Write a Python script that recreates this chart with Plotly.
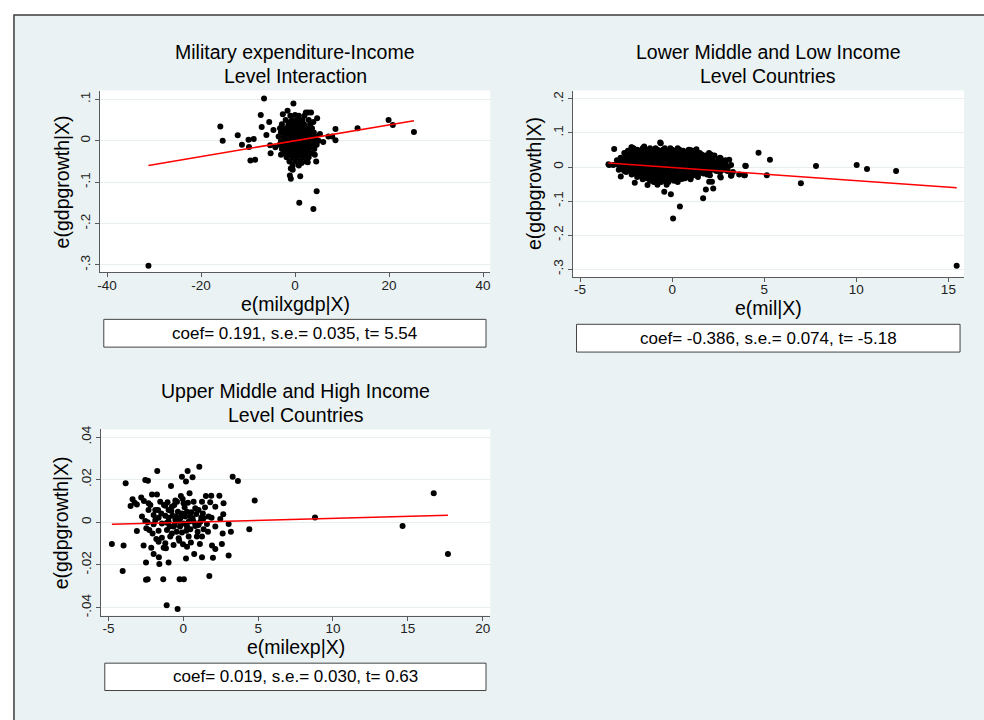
import plotly.graph_objects as go

# ---------------- data ----------------
# Panel 1: e(milxgdp|X) vs e(gdpgrowth|X)
p1_out_x = [-31.2, -15.9, -15.4, -12.2, -11.3, -9.9, -9.8, -8.8, -9.5, -8.5, -7.3, -6.6, -7.1, -6.1,
            -5.5, -5.3, -5.2, -4.6, -4.2, -3.0, -1.6, -0.35, -2.6, 0.0, 2.3, 2.8, 3.4, 3.9, 4.7, 4.2,
            4.5, 2.7, 1.4, -0.9, -0.5, -1.1, -0.9, 1.1, 4.6, 0.9, 3.9, 6.0, 7.1, 7.9, 8.6, 8.6, 13.3,
            19.9, 20.8, 25.3, 5.3]
p1_out_y = [-0.302, 0.034, 0.000, 0.013, -0.010, 0.002, -0.015, 0.004, -0.048, -0.046, 0.062, 0.102,
            0.033, 0.014, 0.045, -0.011, -0.030, 0.026, -0.016, -0.034, 0.072, 0.090, 0.064, 0.062,
            0.068, 0.068, 0.068, 0.045, 0.054, -0.034, -0.050, -0.052, -0.054, -0.067, -0.070, -0.084,
            -0.092, -0.086, -0.122, -0.150, -0.165, -0.003, 0.010, 0.010, 0.028, 0.001, 0.030, 0.050,
            0.038, 0.021, 0.016]
p1_core_rows = {
    0.06: [-1.0, 0.8, 2.0],
    0.05: [-2.0, -0.6, 0.5, 1.6, 2.9],
    0.045: [-1.0, 0.3, 1.4],
    0.04: [-2.8, -1.4, -0.3, 0.8, 1.9, 3.2],
    0.03: [-3.2, -2.0, -0.9, 0.2, 1.3, 2.4, 3.6],
    0.025: [-2.5, -1.2, 0.0, 1.1, 2.2, 3.2],
    0.02: [-3.0, -1.7, -0.6, 0.5, 1.6, 2.7, 4.0],
    0.015: [-2.0, -0.8, 0.3, 1.4, 2.5, 3.6],
    0.01: [-3.5, -2.3, -1.2, -0.1, 1.0, 2.1, 3.2, 4.4],
    0.005: [-2.6, -1.4, -0.2, 0.9, 2.0, 3.1, 4.3],
    0.0: [-3.0, -1.8, -0.7, 0.4, 1.5, 2.6, 3.8, 5.0],
    -0.005: [-2.5, -1.4, -0.3, 0.8, 1.9, 3.0, 4.0],
    -0.01: [-3.3, -2.1, -1.0, 0.1, 1.2, 2.3, 3.5, 4.6],
    -0.015: [-2.2, -1.1, 0.0, 1.1, 2.3, 3.4],
    -0.02: [-2.8, -1.6, -0.5, 0.6, 1.7, 2.9, 4.1],
    -0.025: [-2.0, -0.8, 0.3, 1.4, 2.5],
    -0.03: [-2.4, -1.2, -0.1, 1.0, 2.2, 3.4],
    -0.035: [-1.5, -0.3, 0.8, 2.0],
    -0.04: [-1.8, -0.6, 0.5, 1.7, 2.9],
    -0.05: [-1.2, 0.0, 1.2, 2.4],
    -0.06: [-0.5, 0.8],
}

# Panel 2: e(mil|X) vs e(gdpgrowth|X)
p2_out_x = [15.45, 12.16, 10.58, 10.02, 7.81, 6.99, 5.31, 5.14, 4.69, 4.00, 3.91, 3.64, 3.10, 3.22,
            3.01, 2.64, 2.61, 2.23, 1.83, 1.68, 2.01, 0.42, 0.05, -0.07, -0.43, -3.15, -3.42, -2.79,
            -2.03, -2.21, -0.65, -1.34, 1.32, 0.98, -3.46, -2.19, -1.52, -0.62, 0.53, 0.74, 2.68,
            3.19, 2.64, 3.95, 3.97, 2.05, 2.16]
p2_out_y = [-0.290, -0.012, -0.006, 0.006, 0.003, -0.048, 0.021, -0.024, 0.042, 0.003, -0.024, -0.022,
            0.021, -0.025, -0.004, 0.025, -0.028, -0.063, -0.066, -0.092, -0.043, -0.116, -0.151,
            -0.080, -0.073, 0.053, 0.006, -0.028, -0.046, 0.058, 0.072, -0.053, 0.052, 0.050, 0.008,
            0.057, 0.060, 0.070, -0.035, 0.035, 0.011, -0.026, -0.031, -0.024, 0.004, -0.024, -0.043]
p2_core_rows = {
    0.055: [-2.1, -1.6, -1.2, -0.9, -0.4, -0.1, 0.3],
    0.051: [-1.9, -1.4, -0.8, -0.5, 0.0, 0.4, 0.9],
    0.048: [-2.4, -1.8, -1.4, -1.0, -0.7, -0.2, 0.2, 0.6, 1.1],
    0.044: [-2.2, -1.8, -1.4, -1.0, -0.6, -0.3, 0.1, 0.5, 1.0, 1.3],
    0.041: [-2.6, -2.0, -1.6, -1.2, -0.8, -0.5, -0.1, 0.3, 0.8, 1.5, 2.0],
    0.037: [-2.5, -2.1, -1.7, -1.3, -0.9, -0.5, -0.1, 0.3, 0.7, 1.1, 1.6, 2.1],
    0.034: [-2.3, -1.9, -1.5, -1.1, -0.7, -0.3, 0.1, 0.5, 0.9, 1.3, 1.8, 2.3],
    0.030: [-2.5, -2.0, -1.5, -1.1, -0.7, -0.3, 0.0, 0.4, 0.8, 1.2, 1.7, 2.2],
    0.027: [-2.8, -2.2, -1.7, -1.3, -0.9, -0.5, -0.1, 0.2, 0.6, 1.0, 1.5, 2.0, 2.6],
    0.023: [-2.7, -2.3, -1.8, -1.3, -0.9, -0.5, -0.1, 0.2, 0.6, 1.0, 1.4, 1.9, 2.5],
    0.020: [-3.0, -2.5, -2.0, -1.5, -1.1, -0.7, -0.3, 0.0, 0.4, 0.8, 1.2, 1.7, 2.2, 2.9],
    0.016: [-2.9, -2.5, -2.1, -1.6, -1.2, -0.8, -0.4, 0.0, 0.4, 0.8, 1.2, 1.6, 2.1, 2.6],
    0.013: [-2.7, -2.3, -1.8, -1.4, -1.0, -0.6, -0.2, 0.2, 0.6, 1.0, 1.4, 1.9, 2.4],
    0.009: [-3.0, -2.5, -2.1, -1.6, -1.2, -0.8, -0.4, 0.0, 0.4, 0.8, 1.2, 1.7, 2.2, 2.9],
    0.006: [-3.2, -2.9, -2.4, -2.0, -1.6, -1.2, -0.8, -0.4, 0.0, 0.4, 0.8, 1.2, 1.6, 2.1, 2.7, 3.2],
    0.002: [-2.8, -2.4, -2.0, -1.6, -1.2, -0.8, -0.4, 0.0, 0.4, 0.8, 1.3, 1.7, 2.3, 2.8],
    -0.001: [-2.6, -2.2, -1.8, -1.4, -1.0, -0.6, -0.2, 0.2, 0.6, 1.0, 1.5, 1.9, 2.5, 3.0],
    -0.005: [-2.7, -2.2, -1.8, -1.4, -1.0, -0.6, -0.2, 0.2, 0.6, 1.0, 1.4, 1.9, 2.5],
    -0.008: [-2.9, -2.4, -2.0, -1.6, -1.2, -0.8, -0.4, 0.0, 0.4, 0.8, 1.2, 1.7, 2.2, 2.8],
    -0.012: [-2.6, -2.2, -1.8, -1.4, -1.0, -0.6, -0.2, 0.2, 0.6, 1.0, 1.3, 1.8, 2.4, 3.0],
    -0.015: [-2.5, -2.1, -1.7, -1.3, -0.9, -0.5, -0.1, 0.3, 0.7, 1.1, 1.5, 2.0, 2.6, 3.3],
    -0.019: [-2.0, -1.6, -1.2, -0.8, -0.4, 0.0, 0.4, 0.8, 1.2, 1.7],
    -0.022: [-2.2, -1.8, -1.4, -1.0, -0.6, -0.2, 0.2, 0.6, 1.0, 1.4, 1.9],
    -0.026: [-1.7, -1.3, -0.9, -0.5, -0.1, 0.3, 0.7, 1.1],
    -0.029: [-1.9, -1.5, -1.1, -0.7, -0.3, 0.1, 0.5, 0.9, 1.4],
    -0.033: [-1.4, -1.0, -0.6, -0.2, 0.2, 0.7],
    -0.036: [-1.6, -1.2, -0.8, -0.4, 0.0, 0.4, 1.0],
    -0.040: [-1.2, -0.8, -0.4, 0.1],
    -0.044: [-1.0, -0.6, -0.2, 0.3],
    -0.052: [-0.8, -0.3],
}

# Panel 3: e(milexp|X) vs e(gdpgrowth|X)
p3_x = [-4.77, -3.99, -4.05, -3.85, -3.52, -3.39, -3.25, -3.10, -3.10, -2.81, -2.76, -2.65, -2.63, -2.54,
        -2.36, -2.49, -2.49, -2.38, -2.54, -2.47, -2.38, -2.32, -2.32, -2.27, -2.14, -2.09, -2.05, -1.98,
        -1.98, -1.87, -1.80, -1.76, -1.74, -1.69, -1.65, -1.65, -1.63, -1.60, -1.54, -1.47, -1.43, -1.34,
        -1.31, -1.29, -1.20, -1.20, -1.16, -1.11, -1.09, -1.09, -1.05, -0.98, -0.98, -0.91, -0.82, -0.80,
        -0.76, -0.71, -0.65, -0.60, -0.58, -0.53, -0.49, -0.45, -0.38, -0.36, -0.31, -0.27, -0.24, -0.22,
        -0.16, -0.13, -0.09, -0.09, -0.04, -0.02, 0.02, 0.04, 0.09, 0.13, 0.18, 0.18, 0.20, 0.25, 0.29,
        0.31, 0.36, 0.42, 0.47, 0.51, 0.53, 0.62, 0.62, 0.69, 0.73, 0.80, 0.87, 0.96, 1.02, 1.07, 1.11,
        1.14, 1.20, 1.25, 1.31, 1.36, 1.45, 1.51, 1.58, 1.65, 1.74, 1.80, 1.87, 1.89, 1.92, 1.98, 2.14,
        2.41, 2.47, 2.58, 2.63, 2.69, 2.67, 3.03, 3.03, 3.18, 3.30, 3.65, 4.41, 4.77, 8.80, 14.65, 16.73,
        17.68,
        -0.76, -0.42, 0.02, -1.43, -0.98, -0.53, -0.20, 0.25, 0.69, 1.02, 1.36, 0.36, -0.31, -0.87, -1.65,
        -1.20, 0.25, 1.25, 1.69, -2.20, -1.87, -0.98, -0.09, 0.80, 1.25, -0.65, 0.47, 0.91, 2.14, -1.98,
        2.14]
p3_y = [-0.0102, -0.0109, -0.0228, 0.0183, 0.0077, 0.0108, 0.0092, 0.0084, -0.0041, 0.0117, 0.0027,
        -0.0109, 0.0100, 0.0198, 0.0195, -0.0188, -0.0269, -0.0267, 0.0006, -0.0028, 0.0000, 0.0089,
        0.0058, -0.0036, -0.0119, 0.0131, -0.0052, 0.0034, -0.0148, 0.0011, -0.0078, 0.0131, 0.0241,
        0.0058, 0.0022, -0.0039, -0.0164, -0.0195, 0.0097, 0.0042, -0.0072, -0.0267, -0.0119, 0.0081,
        0.0031, 0.0078, -0.0122, -0.0389, -0.0002, -0.0036, 0.0094, -0.0188, 0.0022, -0.0020, 0.0170,
        0.0053, -0.0052, 0.0031, -0.0106, 0.0081, -0.0013, 0.0102, 0.0027, -0.0044, -0.0406, 0.0050,
        0.0006, -0.0086, -0.0267, -0.0020, 0.0123, 0.0031, 0.0214, -0.0048, 0.0109, -0.0103, -0.0005,
        -0.0267, 0.0070, 0.0027, 0.0191, -0.0170, -0.0039, 0.0050, 0.0241, 0.0092, 0.0003, 0.0136,
        -0.0033, -0.0094, 0.0047, 0.0211, 0.0019, 0.0097, -0.0148, -0.0017, 0.0039, -0.0044, 0.0058,
        0.0261, -0.0102, 0.0003, 0.0022, -0.0164, 0.0042, -0.0033, 0.0070, 0.0123, -0.0008, -0.0044,
        -0.0252, 0.0094, 0.0125, 0.0022, -0.0109, -0.0166, -0.0125, 0.0125, 0.0016, -0.0102, -0.0052,
        0.0089, 0.0038, -0.0008, -0.0156, -0.0044, 0.0214, 0.0194, -0.0033, 0.0102, 0.0023, -0.0017,
        0.0136, -0.0148,
        0.0073, 0.0097, 0.0089, -0.0005, 0.0003, 0.0011, 0.0019, -0.0020, 0.0003, -0.0013, 0.0019,
        -0.0067, -0.0075, -0.0067, -0.0091, -0.0098, -0.0114, -0.0067, 0.0027, 0.0081, 0.0058, 0.0058,
        0.0042, 0.0066, 0.0097, -0.0020, 0.0027, -0.0067, -0.0020, -0.0009, 0.0073]

titles = [["Military expenditure-Income", "Level Interaction"],
          ["Lower Middle and Low Income", "Level Countries"],
          ["Upper Middle and High Income", "Level Countries"]]
x_titles = ["e(milxgdp|X)", "e(mil|X)", "e(milexp|X)"]
y_title = "e(gdpgrowth|X)"
notes = ["coef= 0.191, s.e.= 0.035, t= 5.54",
         "coef= -0.386, s.e.= 0.074, t= -5.18",
         "coef= 0.019, s.e.= 0.030, t= 0.63"]
coefs = [0.191, -0.386, 0.019]          # reported coefficients
coef_scale = 0.01                       # slope in plotted units = coef * 0.01
intercepts = [0.0, -0.0015, 0.0]

x_tickvals = [[-40, -20, 0, 20, 40], [-5, 0, 5, 10, 15], [-5, 0, 5, 10, 15, 20]]
x_ticktext = [["-40", "-20", "0", "20", "40"], ["-5", "0", "5", "10", "15"],
              ["-5", "0", "5", "10", "15", "20"]]
y_tickvals = [[-0.3, -0.2, -0.1, 0, 0.1], [-0.3, -0.2, -0.1, 0, 0.1, 0.2],
              [-0.04, -0.02, 0, 0.02, 0.04]]
y_ticktext = [["-.3", "-.2", "-.1", "0", ".1"], ["-.3", "-.2", "-.1", "0", ".1", ".2"],
              ["-.04", "-.02", "0", ".02", ".04"]]

# ---------------- assemble points ----------------
def rows_to_xy(rows):
    xs, ys = [], []
    for yv, xl in rows.items():
        for xv in xl:
            xs.append(xv)
            ys.append(yv)
    return xs, ys

c1x, c1y = rows_to_xy(p1_core_rows)
c2x, c2y = rows_to_xy(p2_core_rows)
pts = [(p1_out_x + c1x, p1_out_y + c1y), (p2_out_x + c2x, p2_out_y + c2y), (p3_x, p3_y)]

# ---------------- layout geometry (pixels) ----------------
W, H = 984, 720
plot_px = [(98, 489.3, 87.3, 270.7), (571.7, 964, 87.3, 275.3), (99, 489.3, 429, 616.7)]
x_ranges = [[-41.55, 41.55], [-5.41, 15.85], [-5.51, 20.51]]
y_ranges = [[-0.318, 0.121], [-0.323, 0.2245], [-0.04372, 0.04358]]
title_y = [(48.5, 72.5), (48.5, 72.5), (390.2, 414.2)]
xtitle_y = [302.5, 306.5, 648.2]
ytitle_x = [60, 533.3, 60]
note_box = [(102, 485, 318, 346), (575.7, 960, 323, 351), (103, 485, 664.7, 692.3)]

def px(x):
    return x / W

def py(y):
    return 1 - y / H

FONT = "Liberation Sans, Arial, sans-serif"
BG = "#EAF2F3"

fig = go.Figure()
shapes = [dict(type="rect", xref="paper", yref="paper", x0=px(12), x1=px(1010), y0=py(740), y1=py(11),
               fillcolor=BG, line=dict(color="#3c3c3c", width=1.5), layer="below")]
annotations = []

for i in range(3):
    xa = "x" if i == 0 else f"x{i+1}"
    ya = "y" if i == 0 else f"y{i+1}"
    xs, ys = pts[i]
    fig.add_trace(go.Scatter(x=xs, y=ys, mode="markers", xaxis=xa, yaxis=ya,
                             marker=dict(color="black", size=6, line=dict(width=0)),
                             showlegend=False, hoverinfo="skip"))
    slope = coefs[i] * coef_scale
    lx = [min(xs), max(xs)]
    ly = [slope * v + intercepts[i] for v in lx]
    fig.add_trace(go.Scatter(x=lx, y=ly, mode="lines", xaxis=xa, yaxis=ya,
                             line=dict(color="#FF0000", width=1.5), showlegend=False, hoverinfo="skip"))
    l, r, t, b = plot_px[i]
    shapes.append(dict(type="rect", xref="paper", yref="paper", x0=px(l), x1=px(r), y0=py(b), y1=py(t),
                       fillcolor="white", line=dict(width=0), layer="below"))
    axis_common = dict(showline=True, linecolor="#5a5a5a", linewidth=1, ticks="outside", ticklen=4,
                       tickcolor="#5a5a5a", tickwidth=1, zeroline=False, tickmode="array",
                       tickfont=dict(family=FONT, size=13.5, color="#222222"))
    xkey = "xaxis" if i == 0 else f"xaxis{i+1}"
    ykey = "yaxis" if i == 0 else f"yaxis{i+1}"
    fig.update_layout(**{
        xkey: dict(domain=[px(l), px(r)], range=x_ranges[i], anchor=ya, showgrid=False,
                   tickvals=x_tickvals[i], ticktext=x_ticktext[i], ticklabelstandoff=-4, **axis_common),
        ykey: dict(domain=[py(b), py(t)], range=y_ranges[i], anchor=xa, showgrid=True,
                   gridcolor="#E6EEF0", gridwidth=1, tickvals=y_tickvals[i], ticktext=y_ticktext[i],
                   tickangle=-90, ticklabelstandoff=-1, **axis_common),
    })
    cx = (l + r) / 2
    for k in range(2):
        annotations.append(dict(text=titles[i][k], xref="paper", yref="paper", x=px(cx), y=py(title_y[i][k]),
                                xanchor="center", yanchor="middle", showarrow=False,
                                font=dict(family=FONT, size=19.5, color="black")))
    annotations.append(dict(text=x_titles[i], xref="paper", yref="paper", x=px(cx), y=py(xtitle_y[i]),
                            xanchor="center", yanchor="middle", showarrow=False,
                            font=dict(family=FONT, size=19.5, color="black")))
    annotations.append(dict(text=y_title, xref="paper", yref="paper", x=px(ytitle_x[i]), y=py((t + b) / 2),
                            xanchor="center", yanchor="middle", showarrow=False, textangle=-90,
                            font=dict(family=FONT, size=19.5, color="black")))
    bl, br, bt, bb = note_box[i]
    shapes.append(dict(type="rect", xref="paper", yref="paper", x0=px(bl), x1=px(br), y0=py(bb), y1=py(bt),
                       fillcolor="white", line=dict(color="#444444", width=1), layer="below"))
    annotations.append(dict(text=notes[i], xref="paper", yref="paper", x=px((bl + br) / 2),
                            y=py((bt + bb) / 2), xanchor="center", yanchor="middle", showarrow=False,
                            font=dict(family=FONT, size=17, color="black")))

fig.update_layout(width=W, height=H, margin=dict(l=0, r=0, t=0, b=0), paper_bgcolor="white",
                  plot_bgcolor="white", shapes=shapes, annotations=annotations, showlegend=False)

fig.write_html("out.html", config={"displayModeBar": False},
               post_script="document.body.style.margin='0';document.body.style.overflow='hidden';")
